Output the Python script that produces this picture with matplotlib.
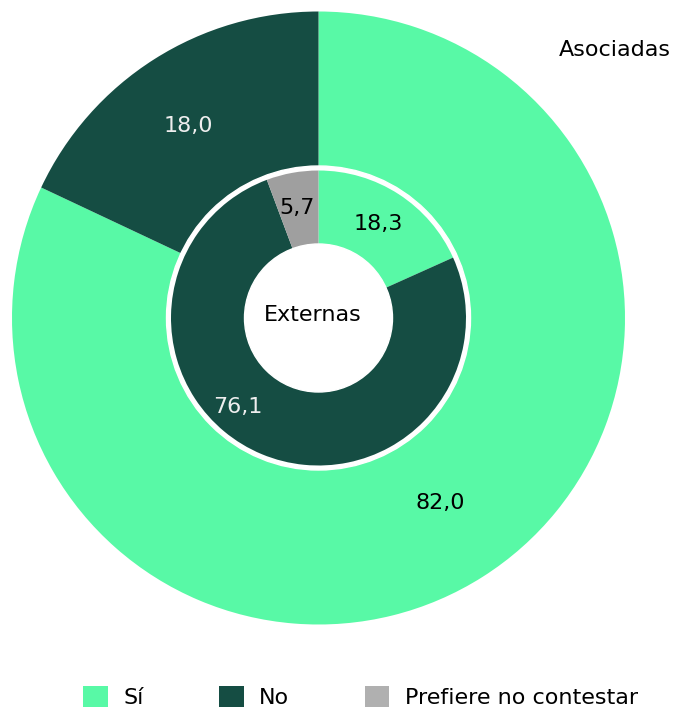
import matplotlib
matplotlib.use("Agg")
import matplotlib.pyplot as plt
from matplotlib.patches import Circle, Patch

# data
categories = ["Sí", "No", "Prefiere no contestar"]
asociadas = [82.0, 18.0]
externas = [18.3, 76.1, 5.7]
asociadas_labels = ["82,0", "18,0"]
externas_labels = ["18,3", "76,1", "5,7"]

colors = ["#58F9A6", "#154D43", "#9F9F9F"]
legend_colors = ["#58F9A6", "#154D43", "#B0B0B0"]

plt.rcParams['font.family'] = ['DejaVu Sans']

W, H = 673, 711
fig = plt.figure(figsize=(W / 100, H / 100), dpi=100)
ax = fig.add_axes([0, 0, 1, 1])

cx, cy = 318.5, H - 318
R_out = 306.5
R_in = 147.5
R_hole = 74

# outer pie (Asociadas)
ax.pie(asociadas, colors=colors[:2], startangle=90, counterclock=False,
       radius=R_out, center=(cx, cy), wedgeprops=dict(linewidth=0))

# white border behind inner ring
ax.add_patch(Circle((cx, cy), R_in + 4.5, color="white", zorder=3))
wedges, _ = ax.pie(externas, colors=colors, startangle=90, counterclock=False,
                   radius=R_in, center=(cx, cy), wedgeprops=dict(linewidth=0))
for w in wedges:
    w.set_zorder(4)
ax.add_patch(Circle((cx, cy), R_hole, color="white", zorder=5))

ax.set_xlim(0, W)
ax.set_ylim(0, H)
ax.set_aspect("equal")
ax.axis("off")

fs = 16
def put(x, y, s, color="black"):
    ax.text(x, H - y, s, ha="center", va="center", fontsize=fs, color=color, zorder=6)

put(440, 503, asociadas_labels[0])
put(188, 126, asociadas_labels[1], "#EEEEEE")
put(378, 224, externas_labels[0])
put(238, 407, externas_labels[1], "#EEEEEE")
put(297, 208, externas_labels[2])
put(313, 315, "Externas")
ax.text(671, H - 50, "Asociadas", ha="right", va="center", fontsize=fs, color="black")

handles = [Patch(facecolor=c, edgecolor="none") for c in legend_colors]
fig.legend(handles, categories, loc="center", bbox_to_anchor=(360.5 / W, 14 / H),
           ncol=3, frameon=False, fontsize=fs, handlelength=1.1, handleheight=1.1,
           handletextpad=0.7, columnspacing=3.4)

fig.savefig("out.png", dpi=100, facecolor="white")
